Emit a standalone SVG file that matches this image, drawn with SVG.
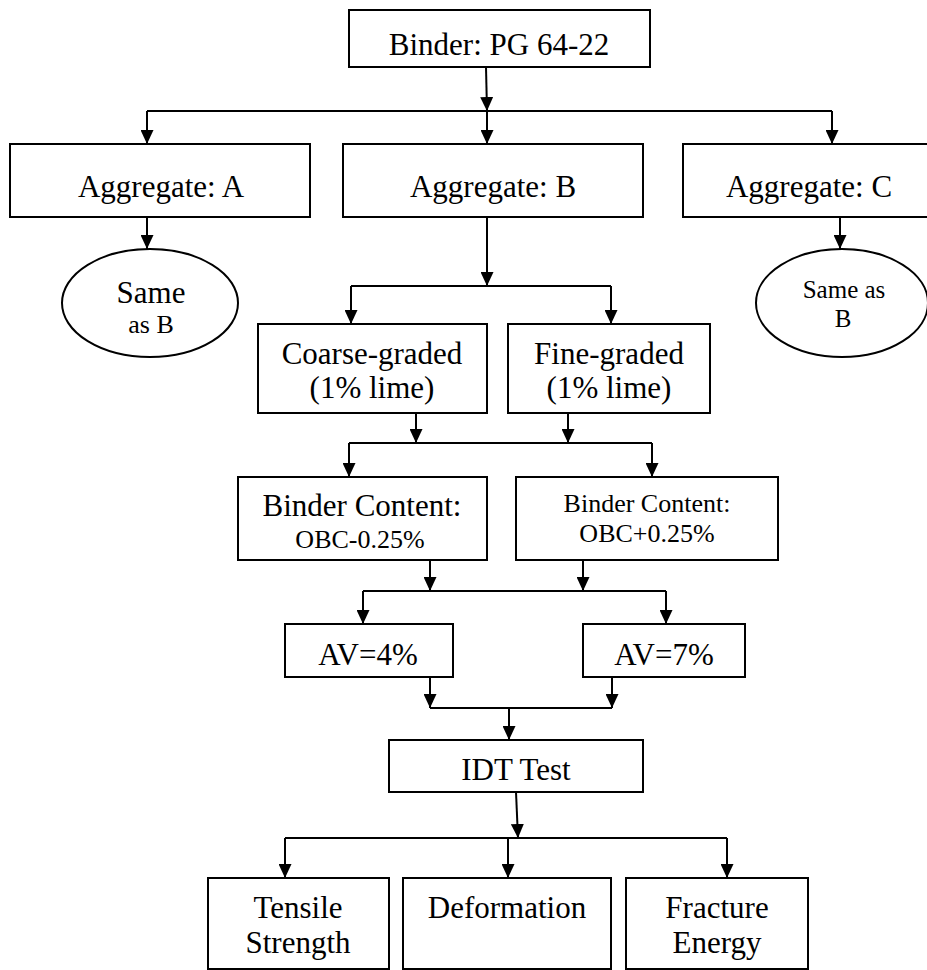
<svg xmlns="http://www.w3.org/2000/svg" width="927" height="970" viewBox="0 0 927 970">
<style>
.b{fill:#fff;stroke:#000;stroke-width:2}
.t{font-family:'Liberation Serif',Tinos,'Times New Roman',Times,'DejaVu Serif',serif;font-size:31px;text-anchor:middle;fill:#000}
.s{font-size:26px}
.s25{font-size:25px}
.c path{fill:none;stroke:#000;stroke-width:2}
.c path.a{marker-end:url(#ah)}
</style>
<defs>
<marker id="ah" viewBox="0 0 14 13" refX="14" refY="6.5" markerWidth="14" markerHeight="13" markerUnits="userSpaceOnUse" orient="auto">
<path d="M0,0 L14,6.5 L0,13 z" fill="#000"/>
</marker>
</defs>
<rect width="927" height="970" fill="#fff"/>
<g class="c" id="connectors">
<path class="a" d="M486,67 L487,111"/>
<path d="M147,111 H832"/>
<path class="a" d="M147,111 V144"/>
<path class="a" d="M487,111 V144"/>
<path class="a" d="M832,111 V144"/>
<path class="a" d="M147,217 V249"/>
<path class="a" d="M840,217 V249"/>
<path class="a" d="M487,217 V286"/>
<path d="M351,286 H611"/>
<path class="a" d="M351,286 V324"/>
<path class="a" d="M611,286 V324"/>
<path class="a" d="M416,413 V443"/>
<path class="a" d="M568,413 V443"/>
<path d="M349,443 H652"/>
<path class="a" d="M349,443 V477"/>
<path class="a" d="M652,443 V477"/>
<path class="a" d="M430,560 V591"/>
<path class="a" d="M583,560 V591"/>
<path d="M363,591 H666"/>
<path class="a" d="M363,591 V624"/>
<path class="a" d="M666,591 V624"/>
<path class="a" d="M430,677 V708"/>
<path class="a" d="M612,677 V708"/>
<path d="M430,708 H612"/>
<path class="a" d="M509,708 V740"/>
<path class="a" d="M516,792 L518,838"/>
<path d="M285,838 H727"/>
<path class="a" d="M285,838 V878"/>
<path class="a" d="M508,838 V878"/>
<path class="a" d="M727,838 V878"/>
</g>
<g id="binder"><rect class="b" x="349" y="10" width="301" height="57"/><text class="t" x="499" y="55">Binder: PG 64-22</text></g>
<g id="aggA"><rect class="b" x="10" y="144" width="300" height="73"/><text class="t" x="161" y="197">Aggregate: A</text></g>
<g id="aggB"><rect class="b" x="343" y="144" width="300" height="73"/><text class="t" x="493" y="197">Aggregate: B</text></g>
<g id="aggC"><rect class="b" x="683" y="144" width="252" height="73"/><text class="t" x="809" y="197">Aggregate: C</text></g>
<g id="sameA"><ellipse class="b" cx="150" cy="303" rx="88" ry="54"/><text class="t" x="151" y="303">Same</text><text class="t s" x="151" y="333">as B</text></g>
<g id="sameC"><ellipse class="b" cx="842" cy="303" rx="86" ry="54"/><text class="t s25" x="844" y="298">Same as</text><text class="t s25" x="843" y="327">B</text></g>
<g id="coarse"><rect class="b" x="258" y="324" width="229" height="89"/><text class="t" x="372" y="364">Coarse-graded</text><text class="t" x="372" y="398">(1% lime)</text></g>
<g id="fine"><rect class="b" x="508" y="324" width="202" height="89"/><text class="t" x="609" y="364">Fine-graded</text><text class="t" x="609" y="398">(1% lime)</text></g>
<g id="bcMinus"><rect class="b" x="238" y="477" width="249" height="83"/><text class="t" x="362" y="516">Binder Content:</text><text class="t s" x="360" y="548">OBC-0.25%</text></g>
<g id="bcPlus"><rect class="b" x="516" y="477" width="262" height="83"/><text class="t s" x="647" y="512">Binder Content:</text><text class="t s" x="647" y="542">OBC+0.25%</text></g>
<g id="av4"><rect class="b" x="285" y="624" width="168" height="53"/><text class="t" x="368" y="665">AV=4%</text></g>
<g id="av7"><rect class="b" x="583" y="624" width="162" height="53"/><text class="t" x="664" y="665">AV=7%</text></g>
<g id="idt"><rect class="b" x="389" y="740" width="254" height="52"/><text class="t" x="516" y="780">IDT Test</text></g>
<g id="tensile"><rect class="b" x="208" y="878" width="181" height="91"/><text class="t" x="298" y="918">Tensile</text><text class="t" x="298" y="953">Strength</text></g>
<g id="deformation"><rect class="b" x="403" y="878" width="208" height="91"/><text class="t" x="507" y="918">Deformation</text></g>
<g id="fracture"><rect class="b" x="626" y="878" width="182" height="91"/><text class="t" x="717" y="918">Fracture</text><text class="t" x="717" y="953">Energy</text></g>
</svg>
